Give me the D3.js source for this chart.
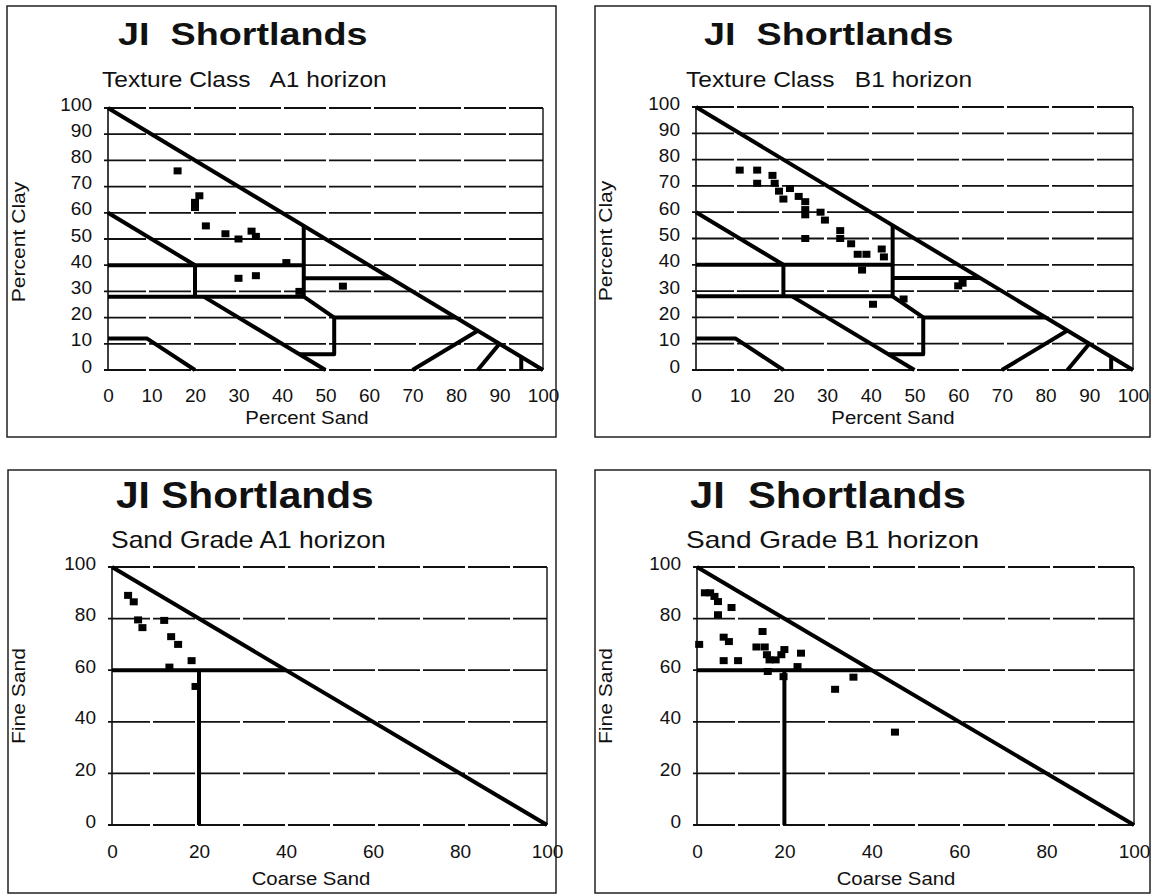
<!DOCTYPE html>
<html>
<head>
<meta charset="utf-8">
<script src="https://cdn.jsdelivr.net/npm/d3@7"></script>
<style>
  body { margin: 0; background: #fff; }
  text { font-family: "Liberation Sans", Arial, sans-serif; fill: #111; }
</style>
</head>
<body>
<div id="wrapper"></div>
<script>
// tick labels
const textureTicks = [0, 10, 20, 30, 40, 50, 60, 70, 80, 90, 100]
const gradeTicks = [0, 20, 40, 60, 80, 100]

// texture class boundaries, [percent sand, percent clay]
const textureBounds = [
  [[0, 100], [100, 0]],
  [[0, 60], [20, 40]],
  [[0, 40], [45, 40]],
  [[20, 40], [20, 28]],
  [[0, 28], [45, 28]],
  [[45, 55], [45, 28], [52, 20], [52, 6], [44, 6]],
  [[45, 35], [65, 35]],
  [[52, 20], [80, 20]],
  [[22, 28], [50, 0]],
  [[0, 12], [9, 12], [20, 0]],
  [[70, 0], [85, 15]],
  [[85, 0], [90, 10]],
  [[95, 0], [95, 5]],
]

// sand grade boundaries, [coarse sand, fine sand]
const gradeBounds = [
  [[0, 100], [100, 0]],
  [[0, 60], [40, 60]],
  [[20, 60], [20, 0]],
]

// samples
const textureA1 = [[16, 76], [21, 66.5], [20, 64], [20, 62], [22.5, 55], [27, 52], [30, 50],
  [33, 53], [34, 51], [41, 41], [30, 35], [34, 36], [44, 30], [54, 32]]

const textureB1 = [[10, 76], [14, 76], [14, 71], [17.5, 74], [18, 71], [19, 68], [20, 65],
  [21.5, 69], [23.5, 66], [25, 64], [25, 61], [25, 59], [28.5, 60], [29.5, 57], [25, 50],
  [33, 53], [33, 50], [35.5, 48], [37, 44], [39, 44], [38, 38], [42.5, 46], [43, 43],
  [40.5, 25], [47.5, 27], [60, 32], [61, 33]]

const gradeA1 = [[3.7, 89], [5, 86.5], [6, 79.5], [7, 76.5], [12, 79.3], [13.6, 73],
  [15.2, 70], [18.3, 63.7], [13.2, 61.2], [19.2, 53.7]]

const gradeB1 = [[1.8, 90], [3, 90], [4, 88.6], [4.8, 86.6], [4.8, 81.5], [7.9, 84.3],
  [0.5, 70], [6.1, 72.8], [7.3, 71.1], [6.1, 63.7], [9.4, 63.7], [15, 75], [13.6, 69],
  [15.5, 69], [16, 66], [16.6, 64], [16.2, 59.5], [18, 64], [20, 68], [19.3, 66],
  [19.8, 57.5], [23.8, 66.6], [23, 61.4], [35.8, 57.3], [31.6, 52.6], [45.3, 36]]

const panels = [
  { title: "JI  Shortlands", sub: "Texture Class   A1 horizon", xLabel: "Percent Sand", yLabel: "Percent Clay",
    ticks: textureTicks, bounds: textureBounds, points: textureA1,
    frame: [7, 6, 556, 437], x0: 108, x1: 543, y0: 370, y1: 108, tickPad: 19,
    titleX: 118, titleY: 45, titleSize: 32, titleStretch: 1.18,
    subX: 102, subY: 87, subSize: 22.5, subStretch: 1.09,
    xLabelX: 307, xLabelY: 424, yLabelX: 25, yLabelY: 242 },
  { title: "JI  Shortlands", sub: "Texture Class   B1 horizon", xLabel: "Percent Sand", yLabel: "Percent Clay",
    ticks: textureTicks, bounds: textureBounds, points: textureB1,
    frame: [595, 6, 1150, 437], x0: 696, x1: 1133, y0: 370, y1: 107, tickPad: 19,
    titleX: 704, titleY: 45, titleSize: 32, titleStretch: 1.18,
    subX: 686, subY: 87, subSize: 22.5, subStretch: 1.09,
    xLabelX: 893, xLabelY: 424, yLabelX: 612, yLabelY: 241 },
  { title: "JI Shortlands", sub: "Sand Grade A1 horizon", xLabel: "Coarse Sand", yLabel: "Fine Sand",
    ticks: gradeTicks, bounds: gradeBounds, points: gradeA1,
    frame: [8, 470, 556, 893], x0: 112, x1: 547, y0: 825, y1: 567, tickPad: 20,
    titleX: 116, titleY: 508, titleSize: 36, titleStretch: 1.13,
    subX: 111, subY: 548, subSize: 23, subStretch: 1.15,
    xLabelX: 311, xLabelY: 885, yLabelX: 25, yLabelY: 696 },
  { title: "JI  Shortlands", sub: "Sand Grade B1 horizon", xLabel: "Coarse Sand", yLabel: "Fine Sand",
    ticks: gradeTicks, bounds: gradeBounds, points: gradeB1,
    frame: [595, 470, 1150, 893], x0: 697, x1: 1134, y0: 825, y1: 567, tickPad: 20,
    titleX: 690, titleY: 508, titleSize: 36, titleStretch: 1.16,
    subX: 686, subY: 548, subSize: 23, subStretch: 1.22,
    xLabelX: 896, xLabelY: 885, yLabelX: 612, yLabelY: 696 },
]

const svg = d3.select("#wrapper")
  .append("svg")
    .attr("width", 1153)
    .attr("height", 896)

function drawPanel(p) {
  const g = svg.append("g")

  g.append("rect")
    .attr("x", p.frame[0])
    .attr("y", p.frame[1])
    .attr("width", p.frame[2] - p.frame[0])
    .attr("height", p.frame[3] - p.frame[1])
    .attr("fill", "none")
    .attr("stroke", "#222")
    .attr("stroke-width", 1.5)

  const xScale = d3.scaleLinear().domain([0, 100]).range([p.x0, p.x1])
  const yScale = d3.scaleLinear().domain([0, 100]).range([p.y0, p.y1])

  // grid lines
  g.selectAll(".grid")
    .data(p.ticks)
    .join("line")
      .attr("class", "grid")
      .attr("x1", p.x0 - 4)
      .attr("x2", p.x1)
      .attr("y1", d => yScale(d))
      .attr("y2", d => yScale(d))
      .attr("stroke", "#111")
      .attr("stroke-width", 1.8)
      .attr("stroke-dasharray", "42 3")

  // left axis and right border
  g.append("line")
    .attr("x1", p.x0).attr("x2", p.x0)
    .attr("y1", yScale(0)).attr("y2", yScale(100))
    .attr("stroke", "#111").attr("stroke-width", 1.6)
  g.append("line")
    .attr("x1", p.x1).attr("x2", p.x1)
    .attr("y1", yScale(0)).attr("y2", yScale(100))
    .attr("stroke", "#111").attr("stroke-width", 1.4)

  // class boundaries
  const lineGenerator = d3.line()
    .x(d => xScale(d[0]))
    .y(d => yScale(d[1]))
  g.selectAll(".bound")
    .data(p.bounds)
    .join("path")
      .attr("class", "bound")
      .attr("d", lineGenerator)
      .attr("fill", "none")
      .attr("stroke", "#000")
      .attr("stroke-width", 4)
      .attr("stroke-linejoin", "round")

  // samples
  g.selectAll(".pt")
    .data(p.points)
    .join("rect")
      .attr("class", "pt")
      .attr("x", d => xScale(d[0]) - 4)
      .attr("y", d => yScale(d[1]) - 3.5)
      .attr("width", 8)
      .attr("height", 7)
      .attr("fill", "#000")

  // tick labels
  const yAxis = g.append("g")
    .attr("transform", `translate(${p.x0},0)`)
    .call(d3.axisLeft(yScale).tickValues(p.ticks).tickSize(0).tickPadding(16))
    .attr("font-size", 19)
    .attr("font-family", "Liberation Sans, Arial, sans-serif")
  yAxis.select(".domain").remove()
  yAxis.selectAll("text").attr("dy", "0.11em").attr("fill", "#111")

  const xAxis = g.append("g")
    .attr("transform", `translate(0,${p.y0})`)
    .call(d3.axisBottom(xScale).tickValues(p.ticks).tickSize(0).tickPadding(p.tickPad))
    .attr("font-size", 19)
    .attr("font-family", "Liberation Sans, Arial, sans-serif")
  xAxis.select(".domain").remove()
  xAxis.selectAll("text").attr("fill", "#111")

  // titles
  g.append("text")
    .attr("transform", `translate(${p.titleX},${p.titleY}) scale(${p.titleStretch},1)`)
    .style("white-space", "pre")
    .attr("font-size", p.titleSize)
    .attr("font-weight", "bold")
    .text(p.title)

  g.append("text")
    .attr("transform", `translate(${p.subX},${p.subY}) scale(${p.subStretch},1)`)
    .style("white-space", "pre")
    .attr("font-size", p.subSize)
    .text(p.sub)

  g.append("text")
    .attr("transform", `translate(${p.xLabelX},${p.xLabelY}) scale(1.1,1)`)
    .attr("text-anchor", "middle")
    .attr("font-size", 18.5)
    .text(p.xLabel)

  g.append("text")
    .attr("transform", `translate(${p.yLabelX},${p.yLabelY}) rotate(-90) scale(1.11,1)`)
    .attr("text-anchor", "middle")
    .attr("font-size", 19)
    .text(p.yLabel)
}

panels.forEach(drawPanel)
</script>
</body>
</html>
